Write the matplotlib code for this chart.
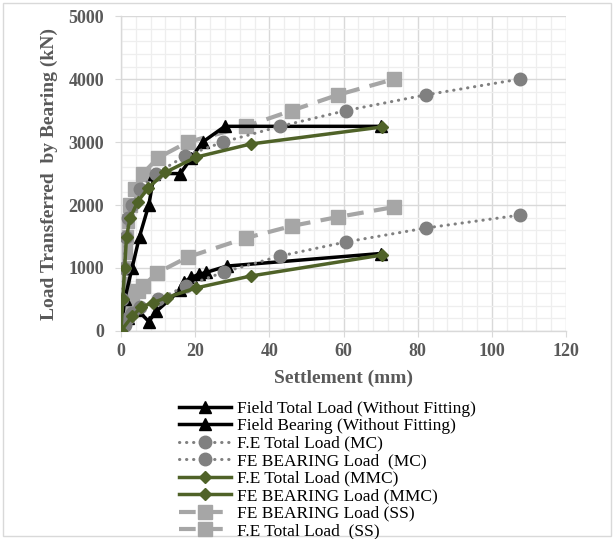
import matplotlib
matplotlib.use("Agg")
import matplotlib.pyplot as plt
from matplotlib.patches import Rectangle
from matplotlib.ticker import MultipleLocator

# ---- data ----
field_total_x = [0, 1, 3, 5, 7.5, 9, 16, 19, 22, 28, 70]
field_total_y = [0, 500, 1000, 1500, 2000, 2500, 2500, 2750, 3000, 3250, 3250]

field_bear_x = [0, 2, 4.5, 7.5, 9.5, 16, 17, 19, 21, 23, 28.5, 70]
field_bear_y = [0, 200, 330, 150, 310, 650, 780, 850, 900, 930, 1030, 1230]

mc_total_x = [0, 0.4, 0.8, 1.3, 2, 3, 5, 9.5, 17.3, 27.5, 42.9, 60.6, 82.2, 107.5]
mc_total_y = [0, 500, 1000, 1500, 1800, 2000, 2250, 2500, 2780, 3000, 3250, 3500, 3750, 4000]

mc_bear_x = [0, 1, 2, 3, 5, 10, 17.5, 27.8, 42.9, 60.6, 82.2, 107.5]
mc_bear_y = [0, 100, 200, 280, 380, 500, 714, 937, 1190, 1413, 1635, 1840]

mmc_total_x = [0, 0.5, 1, 1.5, 2.5, 4.5, 7.3, 12, 20.2, 35, 70.4]
mmc_total_y = [0, 500, 1000, 1500, 1800, 2050, 2270, 2520, 2760, 2970, 3240]

mmc_bear_x = [0, 3, 5.5, 8.6, 12.3, 20.2, 35, 70.4]
mmc_bear_y = [0, 230, 380, 450, 530, 683, 873, 1206]

ss_bear_x = [0, 0.3, 0.6, 1, 1.5, 2.2, 3, 4.5, 6, 9.7, 18.1, 33.7, 46, 58.5, 73.6]
ss_bear_y = [0, 100, 200, 300, 400, 500, 560, 640, 714, 921, 1175, 1476, 1667, 1810, 1968]

ss_total_x = [0, 0.2, 0.4, 0.6, 0.8, 1, 1.3, 1.6, 2.4, 3.8, 5.9, 10, 18, 33.7, 46, 58.5, 73.6]
ss_total_y = [0, 250, 500, 750, 1000, 1250, 1500, 1750, 2000, 2250, 2500, 2750, 3000, 3250, 3500,
              3750, 4000]

plt.rcParams["font.family"] = ["Liberation Serif", "DejaVu Serif"]
plt.rcParams["font.weight"] = "bold"

fig = plt.figure(figsize=(6.14, 5.39), dpi=100)
ax = fig.add_axes([0.197, 0.386, 0.725, 0.584])

BLACK = "black"
MC_GREY = "#808080"
GREEN = "#4f6228"
SS_GREY = "#a6a6a6"

ax.plot(field_total_x, field_total_y, color=BLACK, lw=2.5, marker="^", ms=9,
        label="Field Total Load (Without Fitting)", zorder=3)
ax.plot(field_bear_x, field_bear_y, color=BLACK, lw=2.5, marker="^", ms=9,
        label="Field Bearing (Without Fitting)", zorder=3)
ax.plot(mc_total_x, mc_total_y, color=MC_GREY, lw=2.2, ls=(0, (0.1, 2.2)),
        dash_capstyle="round", marker="o", ms=9, label="F.E Total Load (MC)", zorder=3)
ax.plot(mc_bear_x, mc_bear_y, color=MC_GREY, lw=2.2, ls=(0, (0.1, 2.2)),
        dash_capstyle="round", marker="o", ms=9, label="FE BEARING Load  (MC)", zorder=3)
ax.plot(mmc_total_x, mmc_total_y, color=GREEN, lw=2.5, marker="D", ms=6.5,
        label="F.E Total Load (MMC)", zorder=4)
ax.plot(mmc_bear_x, mmc_bear_y, color=GREEN, lw=2.5, marker="D", ms=6.5,
        label="FE BEARING Load (MMC)", zorder=4)
ax.plot(ss_bear_x, ss_bear_y, color=SS_GREY, lw=3, ls=(0, (4, 2.5)), marker="s", ms=10,
        label="FE BEARING Load (SS)", zorder=2)
ax.plot(ss_total_x, ss_total_y, color=SS_GREY, lw=3, ls=(0, (4, 2.5)), marker="s", ms=10,
        label="F.E Total Load  (SS)", zorder=2)

ax.set_xlim(0, 120)
ax.set_ylim(0, 5000)
ax.xaxis.set_major_locator(MultipleLocator(20))
ax.xaxis.set_minor_locator(MultipleLocator(4))
ax.yaxis.set_major_locator(MultipleLocator(1000))
ax.yaxis.set_minor_locator(MultipleLocator(200))
ax.grid(which="major", color="#d9d9d9", lw=1.0, zorder=0)
ax.grid(which="minor", color="#eeeeee", lw=0.9, zorder=0)
ax.set_axisbelow(True)

for s in ["top", "right"]:
    ax.spines[s].set_visible(False)
for s in ["left", "bottom"]:
    ax.spines[s].set_color("#d9d9d9")
    ax.spines[s].set_linewidth(1.0)

ax.tick_params(which="major", length=4, color="#d9d9d9", labelcolor="#595959",
               labelsize=13)
ax.tick_params(axis="x", pad=5)
ax.tick_params(axis="y", pad=8)
ax.tick_params(which="minor", length=0)

ax.set_xlabel("Settlement (mm)", fontsize=14, fontweight="bold", color="#595959", labelpad=7)
ax.set_ylabel("Load Transferred  by Bearing (kN)", fontsize=14, fontweight="bold",
              color="#595959", labelpad=8)

fig.legend(loc="upper left", bbox_to_anchor=(0.292, 0.257), frameon=False,
           prop={"size": 12.5, "weight": "normal"},
           handlelength=3.0, handletextpad=0.35, labelspacing=0.08, borderaxespad=0,
           borderpad=0)

# Excel chart-area border
fig.patches.append(Rectangle((0.005, 0.005), 0.99, 0.99, transform=fig.transFigure,
                             fill=False, edgecolor="#d9d9d9", lw=1.0))

fig.savefig("out.png", dpi=100)
